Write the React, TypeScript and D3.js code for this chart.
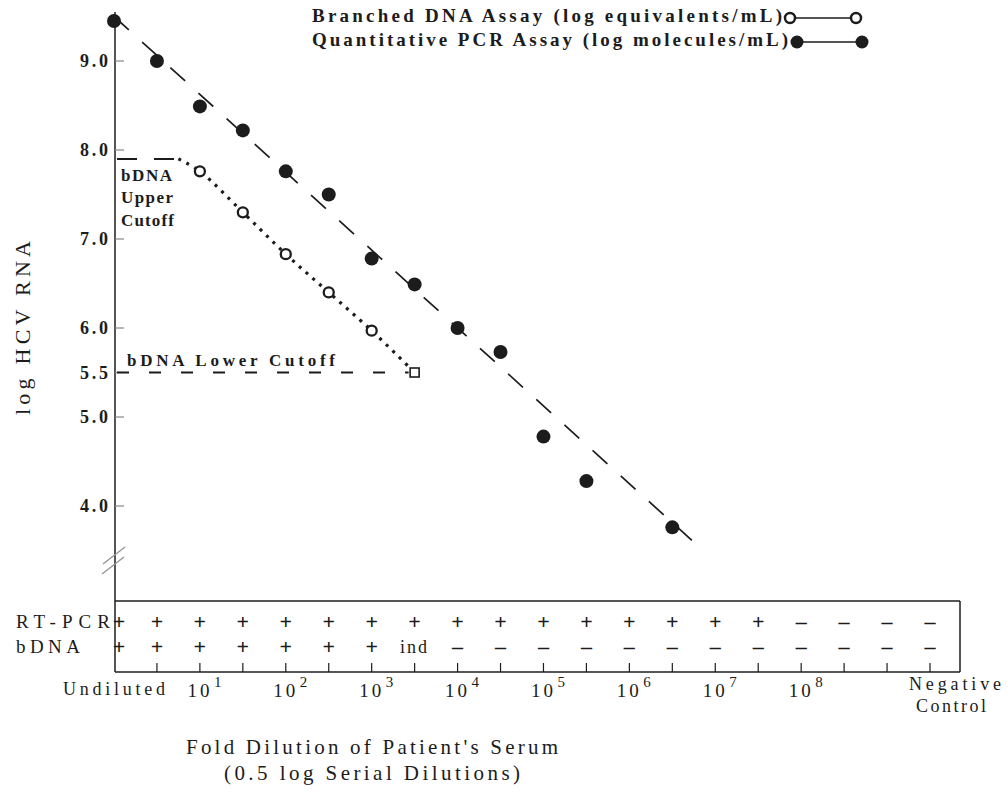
import * as d3 from "d3";

// dilution columns: undiluted, 10^0.5 ... 10^9, negative control
const COLUMNS = [
  "undiluted", "0.5", "1", "1.5", "2", "2.5", "3", "3.5", "4", "4.5",
  "5", "5.5", "6", "6.5", "7", "7.5", "8", "8.5", "9", "negative",
];

const Y_TICKS = [9.0, 8.0, 7.0, 6.0, 5.5, 5.0, 4.0];

// quantitative PCR (log molecules/mL)
const PCR_COLS = [0, 1, 2, 3, 4, 5, 6, 7, 8, 9, 10, 11, 13];
const PCR_VALUES = [9.45, 9.0, 8.49, 8.22, 7.76, 7.5, 6.78, 6.49, 6.0, 5.73, 4.78, 4.28, 3.76];

// branched DNA (log equivalents/mL)
const BDNA_COLS = [2, 3, 4, 5, 6];
const BDNA_VALUES = [7.76, 7.3, 6.83, 6.4, 5.97];

const UPPER_CUTOFF = 7.9;
const LOWER_CUTOFF = 5.5;
const UPPER_CUTOFF_END_COL = 1.5;
const LOWER_CUTOFF_END_COL = 7;

// fitted line through PCR points
const FIT_COLS = [0, 13.6];
const FIT_VALUES = [9.5, 3.55];

const RT_PCR_ROW = ["+", "+", "+", "+", "+", "+", "+", "+", "+", "+", "+", "+", "+", "+", "+", "+", "–", "–", "–", "–"];
const BDNA_ROW = ["+", "+", "+", "+", "+", "+", "+", "ind", "–", "–", "–", "–", "–", "–", "–", "–", "–", "–", "–", "–"];

const X_LABEL_COLS = [2, 4, 6, 8, 10, 12, 14, 16];
const X_LABEL_EXP = ["1", "2", "3", "4", "5", "6", "7", "8"];

const FONT = "'Liberation Serif', 'Times New Roman', serif";
const INK = "#1c1c1c";

export default function App() {
  const width = 1008;
  const height = 795;

  const x = d3.scaleLinear().domain([0, COLUMNS.length - 1]).range([114, 930]);
  const y = d3.scaleLinear().domain([4, 9]).range([506, 61]);

  const axisX = 115;
  const table = { top: 601, bottom: 672, right: 960, row1: 628, row2: 653 };

  const pcr = PCR_COLS.map((c, i) => ({ c, v: PCR_VALUES[i] }));
  const bdna = BDNA_COLS.map((c, i) => ({ c, v: BDNA_VALUES[i] }));

  const fitLine = d3.line<number>().x((c) => x(c)).y((c, i) => y(FIT_VALUES[i]));

  const bdnaCurve = d3
    .line<{ c: number; v: number }>()
    .x((d) => x(d.c))
    .y((d) => y(d.v))
    .curve(d3.curveCatmullRom.alpha(0.5));

  const bdnaPath = bdnaCurve([
    { c: UPPER_CUTOFF_END_COL, v: UPPER_CUTOFF },
    ...bdna,
    { c: LOWER_CUTOFF_END_COL, v: LOWER_CUTOFF },
  ]);

  return (
    <svg width={width} height={height} style={{ position: "absolute", left: 0, top: 0, background: "#fff" }}
      fontFamily={FONT} fill={INK}>
      {/* legend */}
      <g fontWeight="bold" fontSize={19}>
        <text x={312} y={22} textLength={470} lengthAdjust="spacing">Branched DNA Assay (log equivalents/mL)</text>
        <line x1={790} x2={856} y1={18} y2={18} stroke={INK} strokeWidth={1.5} />
        <circle cx={790} cy={18} r={5} fill="#fff" stroke={INK} strokeWidth={2.5} />
        <circle cx={856} cy={18} r={5} fill="#fff" stroke={INK} strokeWidth={2.5} />
        <text x={312} y={46} textLength={476} lengthAdjust="spacing">Quantitative PCR Assay (log molecules/mL)</text>
        <line x1={797} x2={862} y1={42} y2={42} stroke={INK} strokeWidth={1.5} />
        <circle cx={797} cy={42} r={6.5} fill={INK} />
        <circle cx={862} cy={42} r={6.5} fill={INK} />
      </g>

      {/* y axis */}
      <line x1={axisX} x2={axisX} y1={y(9.55)} y2={table.bottom} stroke={INK} strokeWidth={1.5} />
      {Y_TICKS.map((t) => (
        <g key={t}>
          <line x1={axisX} x2={axisX + 9} y1={y(t)} y2={y(t)} stroke="#888" strokeWidth={1.2} />
          <text x={108} y={y(t) + 6} textAnchor="end" fontSize={18} fontWeight="bold"
            textLength={28} lengthAdjust="spacing">
            {t.toFixed(1)}
          </text>
        </g>
      ))}
      {/* axis break */}
      <line x1={103} x2={125} y1={564} y2={547} stroke="#999" strokeWidth={1.5} />
      <line x1={102} x2={124} y1={574} y2={557} stroke="#999" strokeWidth={1.5} />

      <text transform={`translate(30,328) rotate(-90)`} textAnchor="middle" fontSize={22}
        textLength={174} lengthAdjust="spacing">log HCV RNA</text>

      {/* cutoffs */}
      <line x1={axisX + 2} x2={x(UPPER_CUTOFF_END_COL)} y1={y(UPPER_CUTOFF)} y2={y(UPPER_CUTOFF)}
        stroke={INK} strokeWidth={2} strokeDasharray="20 17" />
      <g fontSize={17} fontWeight="bold">
        <text x={121} y={y(UPPER_CUTOFF) + 22} textLength={51} lengthAdjust="spacing">bDNA</text>
        <text x={121} y={y(UPPER_CUTOFF) + 44} textLength={52} lengthAdjust="spacing">Upper</text>
        <text x={121} y={y(UPPER_CUTOFF) + 67} textLength={53} lengthAdjust="spacing">Cutoff</text>
      </g>
      <line x1={axisX + 2} x2={x(LOWER_CUTOFF_END_COL) - 6} y1={y(LOWER_CUTOFF)} y2={y(LOWER_CUTOFF)}
        stroke={INK} strokeWidth={2} strokeDasharray="12 20" />
      <text x={127} y={y(LOWER_CUTOFF) - 7} fontSize={17} fontWeight="bold"
        textLength={208} lengthAdjust="spacing">bDNA Lower Cutoff</text>

      {/* fitted PCR line */}
      <path d={fitLine(FIT_COLS) ?? ""} fill="none" stroke={INK} strokeWidth={1.7} strokeDasharray="20 18" />

      {/* bDNA dotted curve */}
      <path d={bdnaPath ?? ""} fill="none" stroke={INK} strokeWidth={3.2} strokeDasharray="3 6" />

      {/* PCR points */}
      {pcr.map((d) => (
        <circle key={d.c} cx={x(d.c)} cy={y(d.v)} r={7} fill={INK} />
      ))}
      {/* bDNA points */}
      {bdna.map((d) => (
        <circle key={d.c} cx={x(d.c)} cy={y(d.v)} r={5} fill="#fff" stroke={INK} strokeWidth={2.3} />
      ))}
      <rect x={x(LOWER_CUTOFF_END_COL) - 4.5} y={y(LOWER_CUTOFF) - 4.5} width={9} height={9}
        fill="#fff" stroke={INK} strokeWidth={1.6} />

      {/* results table */}
      <g stroke={INK} strokeWidth={1.5}>
        <line x1={axisX} x2={table.right} y1={table.top} y2={table.top} />
        <line x1={axisX} x2={table.right} y1={table.bottom} y2={table.bottom} />
        <line x1={table.right} x2={table.right} y1={table.top} y2={table.bottom} />
        {COLUMNS.map((c, i) =>
          i === 0 ? null : (
            <line key={c} x1={x(i)} x2={x(i)} y1={table.bottom - 9} y2={table.bottom} strokeWidth={1.2} />
          )
        )}
      </g>
      <text x={16} y={table.row1} fontSize={19} textLength={94} lengthAdjust="spacing">RT-PCR</text>
      <text x={16} y={table.row2} fontSize={19} textLength={64} lengthAdjust="spacing">bDNA</text>
      {RT_PCR_ROW.map((s, i) => (
        <text key={`r${i}`} x={x(i) + (i === 0 ? 5 : 0)} y={table.row1 + 1} textAnchor="middle" fontSize={22} fontWeight="bold">{s}</text>
      ))}
      {BDNA_ROW.map((s, i) => (
        <text key={`b${i}`} x={x(i) + (i === 0 ? 5 : 0)} y={table.row2 + (s === "ind" ? 0 : 1)} textAnchor="middle"
          fontSize={s === "ind" ? 18 : 22} fontWeight={s === "ind" ? "normal" : "bold"}
          letterSpacing={s === "ind" ? 2 : 0}>{s}</text>
      ))}

      {/* x labels */}
      <text x={x(0)} y={695} textAnchor="middle" fontSize={18} textLength={102} lengthAdjust="spacing">Undiluted</text>
      {X_LABEL_COLS.map((c, i) => (
        <g key={c}>
          <text x={x(c)} y={697} textAnchor="middle" fontSize={19} letterSpacing={3}>10</text>
          <text x={x(c) + 14} y={687} fontSize={15}>{X_LABEL_EXP[i]}</text>
        </g>
      ))}
      <text x={955} y={690} textAnchor="middle" fontSize={18} textLength={92} lengthAdjust="spacing">Negative</text>
      <text x={951} y={712} textAnchor="middle" fontSize={18} textLength={70} lengthAdjust="spacing">Control</text>

      <text x={372} y={754} textAnchor="middle" fontSize={21} textLength={372} lengthAdjust="spacing">Fold Dilution of Patient's Serum</text>
      <text x={372} y={780} textAnchor="middle" fontSize={21} textLength={296} lengthAdjust="spacing">(0.5 log Serial Dilutions)</text>
    </svg>
  );
}
